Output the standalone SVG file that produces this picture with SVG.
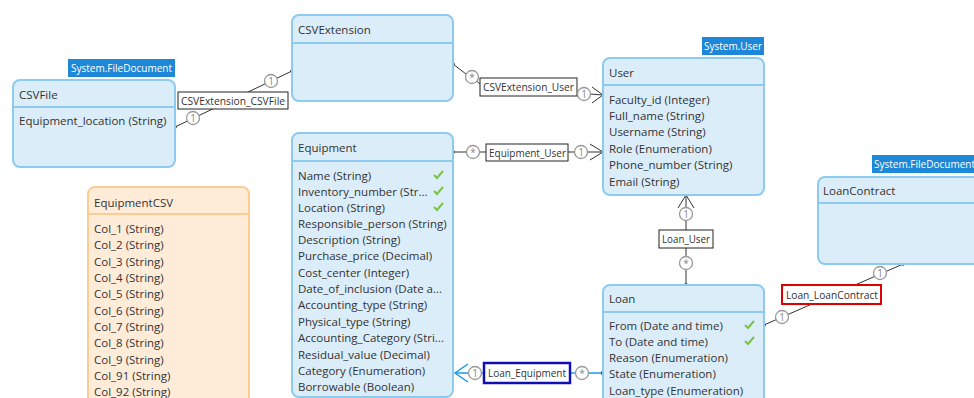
<svg xmlns="http://www.w3.org/2000/svg" width="974" height="398" viewBox="0 0 974 398">
<defs>
<style>
.box{fill:#dbedf9;stroke:#8ccbef;stroke-width:2}
.obox{fill:#feecd9;stroke:#fbcd92;stroke-width:2}
.div{stroke:#8ccbef;stroke-width:2}
.odiv{stroke:#fbcd92;stroke-width:2}
text{font-family:"Open Sans","Noto Sans","DejaVu Sans",sans-serif;font-size:11.5px;fill:#333}
.badge{fill:#1e88d8}
.btext{fill:#fff;font-size:11px}
.line{stroke:#333;stroke-width:1;fill:none}
.bline{stroke:#1a9be8;stroke-width:1.5;fill:none}
.mult{fill:#fff;stroke:#999;stroke-width:1.3}
.mtext{fill:#888;font-size:10px;text-anchor:middle}
.lbl{fill:#fff;stroke:#222;stroke-width:1}
.ltext{font-size:11px}
.chk{stroke:#7cc242;stroke-width:2;fill:none}
</style>
</defs>

<g id="connectors">
  <!-- CSVExtension_CSVFile -->
  <line class="line" x1="175" y1="127" x2="292" y2="71"/>
  <circle cx="175" cy="127" r="1.8" fill="#333"/>
  <circle cx="292" cy="71" r="1.8" fill="#333"/>
  <circle class="mult" cx="193" cy="118" r="6.5"/><text class="mtext" x="193" y="121.5">1</text>
  <circle class="mult" cx="271" cy="81" r="6.5"/><text class="mtext" x="271" y="84.5">1</text>
  <rect class="lbl" x="178" y="92" width="110" height="17"/>
  <text class="ltext" x="181" y="105" textLength="104" lengthAdjust="spacingAndGlyphs">CSVExtension_CSVFile</text>

  <!-- CSVExtension_User -->
  <polyline class="line" points="453,64 466,74 472,77 480,84"/>
  <line class="line" x1="577" y1="93" x2="603" y2="95"/>
  <circle cx="453" cy="64" r="1.8" fill="#333"/>
  <circle class="mult" cx="472" cy="77" r="6.5"/><text class="mtext" x="472" y="80.5">*</text>
  <rect class="lbl" x="480" y="78" width="97" height="18"/>
  <text class="ltext" x="483" y="91" textLength="91" lengthAdjust="spacingAndGlyphs">CSVExtension_User</text>
  <circle class="mult" cx="584" cy="94" r="6.5"/><text class="mtext" x="584" y="97.5">1</text>
  <polyline class="line" points="592,87 603,95 592,103" stroke-width="1.3"/>

  <!-- Equipment_User -->
  <line class="line" x1="453" y1="152" x2="603" y2="152"/>
  <circle cx="453" cy="152" r="1.8" fill="#333"/>
  <circle class="mult" cx="473" cy="152" r="6.5"/><text class="mtext" x="473" y="155.5">*</text>
  <rect class="lbl" x="486" y="144" width="82" height="17"/>
  <text class="ltext" x="489" y="157" textLength="77" lengthAdjust="spacingAndGlyphs">Equipment_User</text>
  <circle class="mult" cx="581" cy="152" r="6.5"/><text class="mtext" x="581" y="155.5">1</text>
  <polyline class="line" points="590,144 603,152 590,160" stroke-width="1.3"/>

  <!-- Loan_User -->
  <line class="line" x1="686" y1="195" x2="686" y2="285"/>
  <circle cx="686" cy="285" r="1.8" fill="#333"/>
  <polyline class="line" points="678,208 686,195 694,208" stroke-width="1.3"/>
  <circle class="mult" cx="686" cy="214" r="6.5"/><text class="mtext" x="686" y="217.5">1</text>
  <rect class="lbl" x="659" y="230" width="54" height="18"/>
  <text class="ltext" x="662" y="243" textLength="48" lengthAdjust="spacingAndGlyphs">Loan_User</text>
  <circle class="mult" cx="686" cy="263" r="6.5"/><text class="mtext" x="686" y="266.5">*</text>

  <!-- Loan_LoanContract -->
  <line class="line" x1="764" y1="325" x2="903" y2="264"/>
  <circle cx="764" cy="325" r="1.8" fill="#333"/>
  <circle cx="903" cy="264" r="1.8" fill="#333"/>
  <circle class="mult" cx="782" cy="317" r="6.5"/><text class="mtext" x="782" y="320.5">1</text>
  <circle class="mult" cx="880" cy="273" r="6.5"/><text class="mtext" x="880" y="276.5">1</text>
  <rect x="782" y="285" width="99" height="19" fill="#fff" stroke="#e00000" stroke-width="2"/>
  <text class="ltext" x="786" y="299" textLength="92" lengthAdjust="spacingAndGlyphs">Loan_LoanContract</text>

  <!-- Loan_Equipment -->
  <line class="bline" x1="455" y1="373" x2="603" y2="373"/>
  <circle cx="603" cy="373" r="2.2" fill="#1a4fd0"/>
  <polyline class="bline" points="468,364 455,373 468,382" stroke-width="1.8"/>
  <circle class="mult" cx="475" cy="373" r="6.5"/><text class="mtext" x="475" y="376.5">1</text>
  <rect x="484" y="363" width="86" height="20" fill="#fff" stroke="#1010b0" stroke-width="2.5"/>
  <text class="ltext" x="488" y="377" textLength="78" lengthAdjust="spacingAndGlyphs">Loan_Equipment</text>
  <circle class="mult" cx="582" cy="373" r="6.5"/><text class="mtext" x="582" y="376.5">*</text>
</g>

<g id="CSVFile">
  <rect class="badge" x="68" y="59" width="107" height="18"/>
  <text class="btext" x="71" y="72" textLength="101" lengthAdjust="spacingAndGlyphs">System.FileDocument</text>
  <rect class="box" x="13" y="80" width="162" height="87" rx="7"/>
  <line class="div" x1="13" y1="107" x2="175" y2="107"/>
  <text x="19" y="99">CSVFile</text>
  <text x="19" y="125">Equipment_location (String)</text>
</g>

<g id="CSVExtension">
  <rect class="box" x="292" y="15" width="161" height="86" rx="7"/>
  <line class="div" x1="292" y1="43" x2="453" y2="43"/>
  <text x="298" y="34">CSVExtension</text>
</g>

<g id="User">
  <rect class="badge" x="702" y="37" width="62" height="18"/>
  <text class="btext" x="704" y="50" textLength="58" lengthAdjust="spacingAndGlyphs">System.User</text>
  <rect class="box" x="603" y="58" width="161" height="137" rx="7"/>
  <line class="div" x1="603" y1="85" x2="764" y2="85"/>
  <text x="609" y="77">User</text>
  <text x="609" y="104">Faculty_id (Integer)</text>
  <text x="609" y="120">Full_name (String)</text>
  <text x="609" y="136">Username (String)</text>
  <text x="609" y="153">Role (Enumeration)</text>
  <text x="609" y="169">Phone_number (String)</text>
  <text x="609" y="186">Email (String)</text>
</g>

<g id="Equipment">
  <rect class="box" x="292" y="133" width="161" height="264" rx="7"/>
  <line class="div" x1="292" y1="161" x2="453" y2="161"/>
  <text x="298" y="152">Equipment</text>
  <text x="298" y="180">Name (String)</text>
  <text x="298" y="196">Inventory_number (Str...</text>
  <text x="298" y="212">Location (String)</text>
  <text x="298" y="228">Responsible_person (String)</text>
  <text x="298" y="244">Description (String)</text>
  <text x="298" y="260">Purchase_price (Decimal)</text>
  <text x="298" y="277">Cost_center (Integer)</text>
  <text x="298" y="293">Date_of_inclusion (Date a...</text>
  <text x="298" y="309">Accounting_type (String)</text>
  <text x="298" y="326">Physical_type (String)</text>
  <text x="298" y="342">Accounting_Category (Stri...</text>
  <text x="298" y="359">Residual_value (Decimal)</text>
  <text x="298" y="375">Category (Enumeration)</text>
  <text x="298" y="391">Borrowable (Boolean)</text>
  <polyline class="chk" points="434,175 437,178 443,171"/>
  <polyline class="chk" points="434,191 437,194 443,187"/>
  <polyline class="chk" points="434,207 437,210 443,203"/>
</g>

<g id="EquipmentCSV">
  <rect class="obox" x="88" y="187" width="161" height="220" rx="7"/>
  <line class="odiv" x1="88" y1="214" x2="249" y2="214"/>
  <text x="94" y="207">EquipmentCSV</text>
  <text x="94" y="233">Col_1 (String)</text>
  <text x="94" y="249">Col_2 (String)</text>
  <text x="94" y="266">Col_3 (String)</text>
  <text x="94" y="282">Col_4 (String)</text>
  <text x="94" y="298">Col_5 (String)</text>
  <text x="94" y="315">Col_6 (String)</text>
  <text x="94" y="331">Col_7 (String)</text>
  <text x="94" y="347">Col_8 (String)</text>
  <text x="94" y="364">Col_9 (String)</text>
  <text x="94" y="380">Col_91 (String)</text>
  <text x="94" y="396">Col_92 (String)</text>
</g>

<g id="LoanContract">
  <rect class="badge" x="872" y="155" width="110" height="18"/>
  <text class="btext" x="874" y="168" textLength="101" lengthAdjust="spacingAndGlyphs">System.FileDocument</text>
  <rect class="box" x="818" y="177" width="170" height="87" rx="7"/>
  <line class="div" x1="818" y1="203" x2="988" y2="203"/>
  <text x="823" y="195">LoanContract</text>
</g>

<g id="Loan">
  <rect class="box" x="603" y="285" width="161" height="130" rx="7"/>
  <line class="div" x1="603" y1="312" x2="764" y2="312"/>
  <text x="609" y="303">Loan</text>
  <text x="609" y="330">From (Date and time)</text>
  <text x="609" y="346">To (Date and time)</text>
  <text x="609" y="362">Reason (Enumeration)</text>
  <text x="609" y="378">State (Enumeration)</text>
  <text x="609" y="395">Loan_type (Enumeration)</text>
  <polyline class="chk" points="745,325 748,328 754,321"/>
  <polyline class="chk" points="745,341 748,344 754,337"/>
</g>
</svg>
